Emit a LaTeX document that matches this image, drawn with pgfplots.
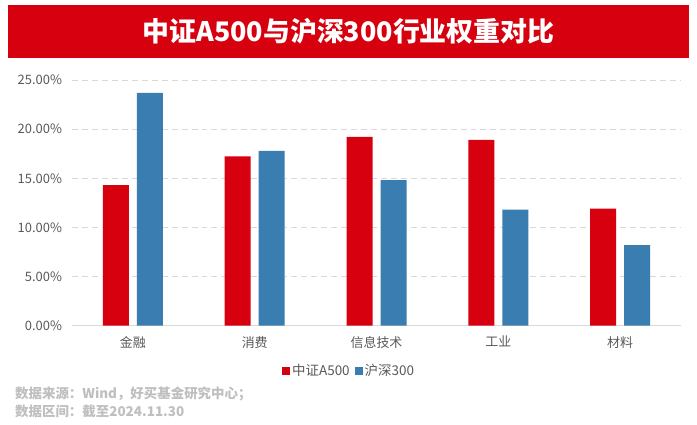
\documentclass[border=0pt]{standalone}
\usepackage{fontspec}
\setmainfont{Noto Sans CJK SC}
\usepackage{pgfplots}
\pgfplotsset{compat=1.18}
\definecolor{cred}{HTML}{D7000F}
\definecolor{cblue}{HTML}{3A7DB0}
\definecolor{gridc}{HTML}{D9D9D9}
\definecolor{tickc}{HTML}{595959}
\definecolor{notec}{HTML}{BFBFBF}
\begin{document}
\begin{tikzpicture}
\fill[white] (0bp,0bp) rectangle (697bp,425bp);
\fill[cred] (8bp,420bp) rectangle (689bp,367bp);
\node[white,font=\fontsize{27}{27}\selectfont\bfseries] at (348.5bp,393.5bp) {中证A500与沪深300行业权重对比};
\begin{axis}[
  at={(72bp,99.3bp)}, anchor=south west, scale only axis,
  width=609bp, height=245.7bp,
  ymin=0, ymax=25, xmin=-0.5, xmax=4.5,
  ybar=8bp, bar width=26bp,
  axis x line*=bottom, axis y line*=left,
  x axis line style={draw=gridc, line width=0.8pt, -},
  y axis line style={draw=none},
  major tick length=0pt,
  ymajorgrids, grid style={gridc, dash pattern=on 6pt off 4pt, line width=0.6pt},
  ytick={0,5,10,15,20,25},
  yticklabel={\pgfmathprintnumber[fixed,fixed zerofill,precision=2]{\tick}\%},
  /pgf/number format/assume math mode=true,
  xtick={0,1,2,3,4},
  xticklabels={金融,消费,信息技术,工业,材料},
  ticklabel style={font=\fontsize{13}{13}\selectfont, text=tickc},
  yticklabel style={xshift=-6.5bp},
  xticklabel style={yshift=-7bp},
  legend style={at={(0.455,-0.184)}, anchor=center, draw=none, fill=none,
    legend columns=2, font=\fontsize{13.5}{14}\selectfont, text=tickc,
    /tikz/every even column/.append style={column sep=3bp}},
  legend image code/.code={\fill[#1] (0bp,-4bp) rectangle (8bp,4bp);},
]
\addplot[fill=cred, draw=none] coordinates {(0,14.3) (1,17.24) (2,19.2) (3,18.9) (4,11.9)};
\addplot[fill=cblue, draw=none] coordinates {(0,23.7) (1,17.8) (2,14.8) (3,11.8) (4,8.2)};
\legend{中证A500,沪深300}
\end{axis}
\node[anchor=west, text=notec, font=\fontsize{13.5}{14}\selectfont\bfseries, inner sep=0] at (15bp,31bp) {数据来源：Wind，好买基金研究中心；};
\node[anchor=west, text=notec, font=\fontsize{13.5}{14}\selectfont\bfseries, inner sep=0] at (15bp,14bp) {数据区间：截至2024.11.30};
\end{tikzpicture}
\end{document}
